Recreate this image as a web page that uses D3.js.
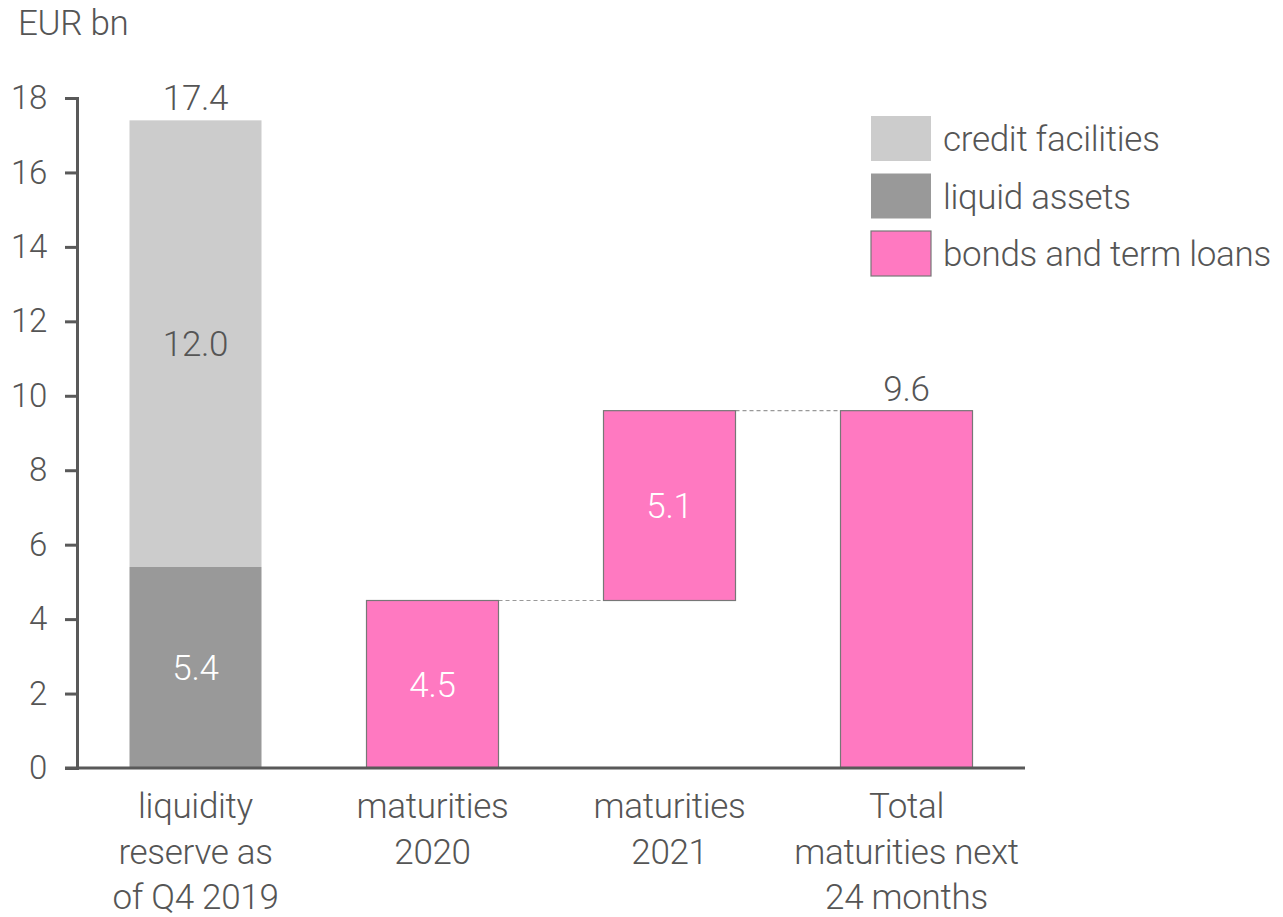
<!DOCTYPE html>
<html>
<head>
<meta charset="utf-8">
<script src="https://cdn.jsdelivr.net/npm/d3@7"></script>
<style>
  body { margin: 0; background: #fff; }
  svg text { font-family: "Roboto", sans-serif; font-weight: 300; fill: #555; letter-spacing: -0.3px; }
</style>
</head>
<body>
<svg width="1283" height="917"></svg>
<script>
// data
var categories = ["liquidity reserve as of Q4 2019", "maturities 2020", "maturities 2021", "Total maturities next 24 months"];
var categoryLines = [["liquidity", "reserve as", "of Q4 2019"], ["maturities", "2020"], ["maturities", "2021"], ["Total", "maturities next", "24 months"]];
var liquidAssets = [5.4, 0, 0, 0];
var creditFacilities = [12.0, 0, 0, 0];
var bondsAndLoans = [0, 4.5, 5.1, 9.6];
var bondsBase = [0, 0, 4.5, 0];   // waterfall offset
var totalLabels = ["17.4", null, null, "9.6"];
var yTicks = [0, 2, 4, 6, 8, 10, 12, 14, 16, 18];
var legendItems = ["credit facilities", "liquid assets", "bonds and term loans"];

var colors = { credit: "#cccccc", liquid: "#999999", bonds: "#ff79c1" };
var fs = "35px";

var svg = d3.select("svg");

// scales
var x = d3.scaleBand().domain(categories).range([77, 1025]).paddingInner(0.443).paddingOuter(0.2215);
var y = d3.scaleLinear().domain([0, 18]).range([768, 98]);

// unit label
svg.append("text")
  .attr("x", 18).attr("y", 35)
  .attr("font-size", fs)
  .text("EUR bn");

// stacked segments
var segs = [];
categories.forEach(function(c, i) {
  if (liquidAssets[i] > 0) segs.push({ cat: c, y0: 0, y1: liquidAssets[i], fill: colors.liquid, stroke: "none", label: liquidAssets[i].toFixed(1), lc: "#fff" });
  if (creditFacilities[i] > 0) segs.push({ cat: c, y0: liquidAssets[i], y1: liquidAssets[i] + creditFacilities[i], fill: colors.credit, stroke: "none", label: creditFacilities[i].toFixed(1), lc: "#555" });
  if (bondsAndLoans[i] > 0 && i < 3) segs.push({ cat: c, y0: bondsBase[i], y1: bondsBase[i] + bondsAndLoans[i], fill: colors.bonds, stroke: "#777", label: bondsAndLoans[i].toFixed(1), lc: "#fff" });
  if (bondsAndLoans[i] > 0 && i == 3) segs.push({ cat: c, y0: 0, y1: bondsAndLoans[i], fill: colors.bonds, stroke: "#777", label: null });
});

// dashed connectors for the waterfall
var connectors = [[1, 2, bondsBase[2]], [2, 3, bondsBase[2] + bondsAndLoans[2]]];
svg.selectAll(".conn")
  .data(connectors)
  .enter().append("line")
  .attr("x1", function(d) { return x(categories[d[0]]) + x.bandwidth(); })
  .attr("x2", function(d) { return x(categories[d[1]]); })
  .attr("y1", function(d) { return y(d[2]); })
  .attr("y2", function(d) { return y(d[2]); })
  .attr("stroke", "#999")
  .attr("stroke-width", 1.2)
  .attr("stroke-dasharray", "4,3");

svg.selectAll(".seg")
  .data(segs)
  .enter().append("rect")
  .attr("x", function(d) { return x(d.cat); })
  .attr("y", function(d) { return y(d.y1); })
  .attr("width", x.bandwidth())
  .attr("height", function(d) { return y(d.y0) - y(d.y1); })
  .attr("fill", function(d) { return d.fill; })
  .attr("stroke", function(d) { return d.stroke; })
  .attr("stroke-width", 1.2);

svg.selectAll(".seglabel")
  .data(segs.filter(function(d) { return d.label; }))
  .enter().append("text")
  .attr("x", function(d) { return x(d.cat) + x.bandwidth() / 2; })
  .attr("y", function(d) { return y((d.y0 + d.y1) / 2); })
  .attr("dy", "0.35em")
  .attr("text-anchor", "middle")
  .attr("font-size", fs)
  .style("fill", function(d) { return d.lc; })
  .text(function(d) { return d.label; });

// totals above bars
categories.forEach(function(c, i) {
  if (!totalLabels[i]) return;
  var top = liquidAssets[i] + creditFacilities[i] + (i == 3 ? bondsAndLoans[i] : 0);
  svg.append("text")
    .attr("x", x(c) + x.bandwidth() / 2)
    .attr("y", y(top) - 10)
    .attr("text-anchor", "middle")
    .attr("font-size", fs)
    .text(totalLabels[i]);
});

// y axis
var yAxis = svg.append("g")
  .attr("transform", "translate(77,0)")
  .call(d3.axisLeft(y).tickValues(yTicks).tickSize(12).tickPadding(18).tickFormat(d3.format("d")));
yAxis.select(".domain").attr("stroke", "#595959").attr("stroke-width", 3);
yAxis.selectAll(".tick line").attr("stroke", "#595959").attr("stroke-width", 3);
yAxis.selectAll(".tick text").attr("font-size", "33px").attr("font-family", null).style("fill", "#555");

// x axis
svg.append("line")
  .attr("x1", 65).attr("x2", 1025)
  .attr("y1", y(0)).attr("y2", y(0))
  .attr("stroke", "#595959").attr("stroke-width", 3);

var xl = svg.selectAll(".xlab")
  .data(categories)
  .enter().append("text")
  .attr("text-anchor", "middle")
  .attr("font-size", fs)
  .attr("x", function(d) { return x(d) + x.bandwidth() / 2; });
xl.selectAll("tspan")
  .data(function(d, i) { return categoryLines[i]; })
  .enter().append("tspan")
  .attr("x", function() { return d3.select(this.parentNode).attr("x"); })
  .attr("y", function(d, j) { return 818 + j * 45.5; })
  .text(function(d) { return d; });

// legend
var legendColors = [colors.credit, colors.liquid, colors.bonds];
var lg = svg.selectAll(".leg")
  .data(legendItems)
  .enter().append("g")
  .attr("transform", function(d, i) { return "translate(871," + (116 + i * 57.5) + ")"; });
lg.append("rect")
  .attr("width", 60).attr("height", 45)
  .attr("fill", function(d, i) { return legendColors[i]; })
  .attr("stroke", function(d, i) { return i == 2 ? "#777" : "none"; })
  .attr("stroke-width", 1.2);
lg.append("text")
  .attr("x", 72).attr("y", 23)
  .attr("dy", "0.35em")
  .attr("font-size", fs)
  .text(function(d) { return d; });
</script>
</body>
</html>
